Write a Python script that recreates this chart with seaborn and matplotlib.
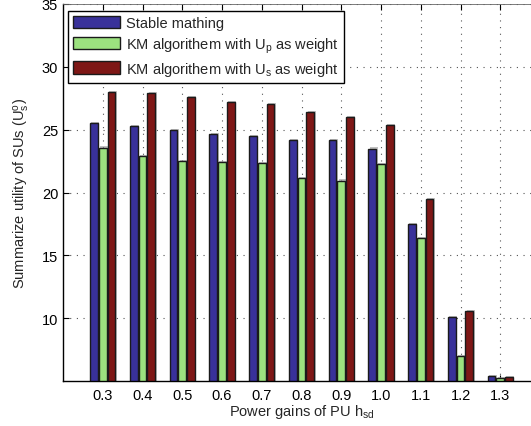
import matplotlib
matplotlib.use("Agg")
import matplotlib.pyplot as plt
import matplotlib.patheffects as pe
import seaborn as sns
import pandas as pd

categories = ["0.3", "0.4", "0.5", "0.6", "0.7", "0.8", "0.9", "1.0", "1.1", "1.2", "1.3"]
stable = [25.56, 25.26, 24.94, 24.62, 24.46, 24.2, 24.2, 23.5, 17.46, 10.1, 5.4]
km_up = [23.58, 22.92, 22.52, 22.41, 22.36, 21.16, 20.95, 22.23, 16.39, 7.02, 5.24]
km_us = [28.0, 27.88, 27.58, 27.18, 27.05, 26.38, 25.98, 25.34, 19.49, 10.6, 5.3]
series_names = ["Stable mathing",
                r"KM algorithem with U$_{\rm p}$ as weight",
                r"KM algorithem with U$_{\rm s}$ as weight"]
colors = ["#39319a", "#9ce27f", "#7e1716"]

rows = []
for name, vals in zip(series_names, [stable, km_up, km_us]):
    for c, v in zip(categories, vals):
        rows.append({"x": c, "value": v, "series": name})
df = pd.DataFrame(rows)

sns.set_style("white")
plt.rcParams["font.family"] = ["Liberation Sans", "DejaVu Sans"]
plt.rcParams["mathtext.fontset"] = "custom"
plt.rcParams["mathtext.rm"] = "Liberation Sans"
plt.rcParams["mathtext.it"] = "Liberation Sans:italic"

W, H = 531, 427
fig = plt.figure(figsize=(W / 100, H / 100), dpi=100)
ax = fig.add_axes([63 / W, 1 - 382 / H, (540 - 63) / W, (382 - 5) / H])

sns.barplot(data=df, x="x", y="value", hue="series", order=categories,
            hue_order=series_names, palette=colors, width=0.66, gap=0.1,
            edgecolor="#1a1a1a", linewidth=1.0, saturation=1, ax=ax)

for p in ax.patches:
    p.set_path_effects([pe.SimplePatchShadow(offset=(1.0, 0.8), shadow_rgbFace="#999999", alpha=0.6),
                        pe.Normal()])

ax.set_xlim(-1, 11)
ax.set_ylim(5, 35)
ax.set_yticks([10, 15, 20, 25, 30, 35])
ax.set_axisbelow(True)
ax.grid(True, which="major", color="#555555", linestyle=(0, (1, 5)), linewidth=0.8)

for s in ["left", "bottom"]:
    ax.spines[s].set_color("black")
    ax.spines[s].set_linewidth(1.0)
ax.spines["top"].set_color("#666666")
ax.spines["top"].set_linewidth(0.6)
ax.spines["right"].set_visible(False)

ax.tick_params(axis="both", direction="in", length=4, width=0.8, labelsize=10.5,
               colors="black", top=True, bottom=True, left=True)
ax.tick_params(axis="x", pad=5)

ax.set_xlabel(r"Power gains of PU h$_{\rm sd}$", fontsize=10.5, labelpad=0)
ax.set_ylabel(r"Summarize utility of SUs (U$_{\rm s}^{\rm o}$)", fontsize=10.5, labelpad=7)

leg = ax.legend(loc="upper left", bbox_to_anchor=(0.0105, 0.982), fontsize=10.5,
                frameon=True, fancybox=False, edgecolor="black", framealpha=1,
                handlelength=3.2, handleheight=0.95, borderpad=0.35, labelspacing=0.35,
                handletextpad=0.4, borderaxespad=0)
leg.get_frame().set_linewidth(1.0)
for h in leg.legend_handles:
    h.set_path_effects([])

fig.savefig("out.png", dpi=100)
